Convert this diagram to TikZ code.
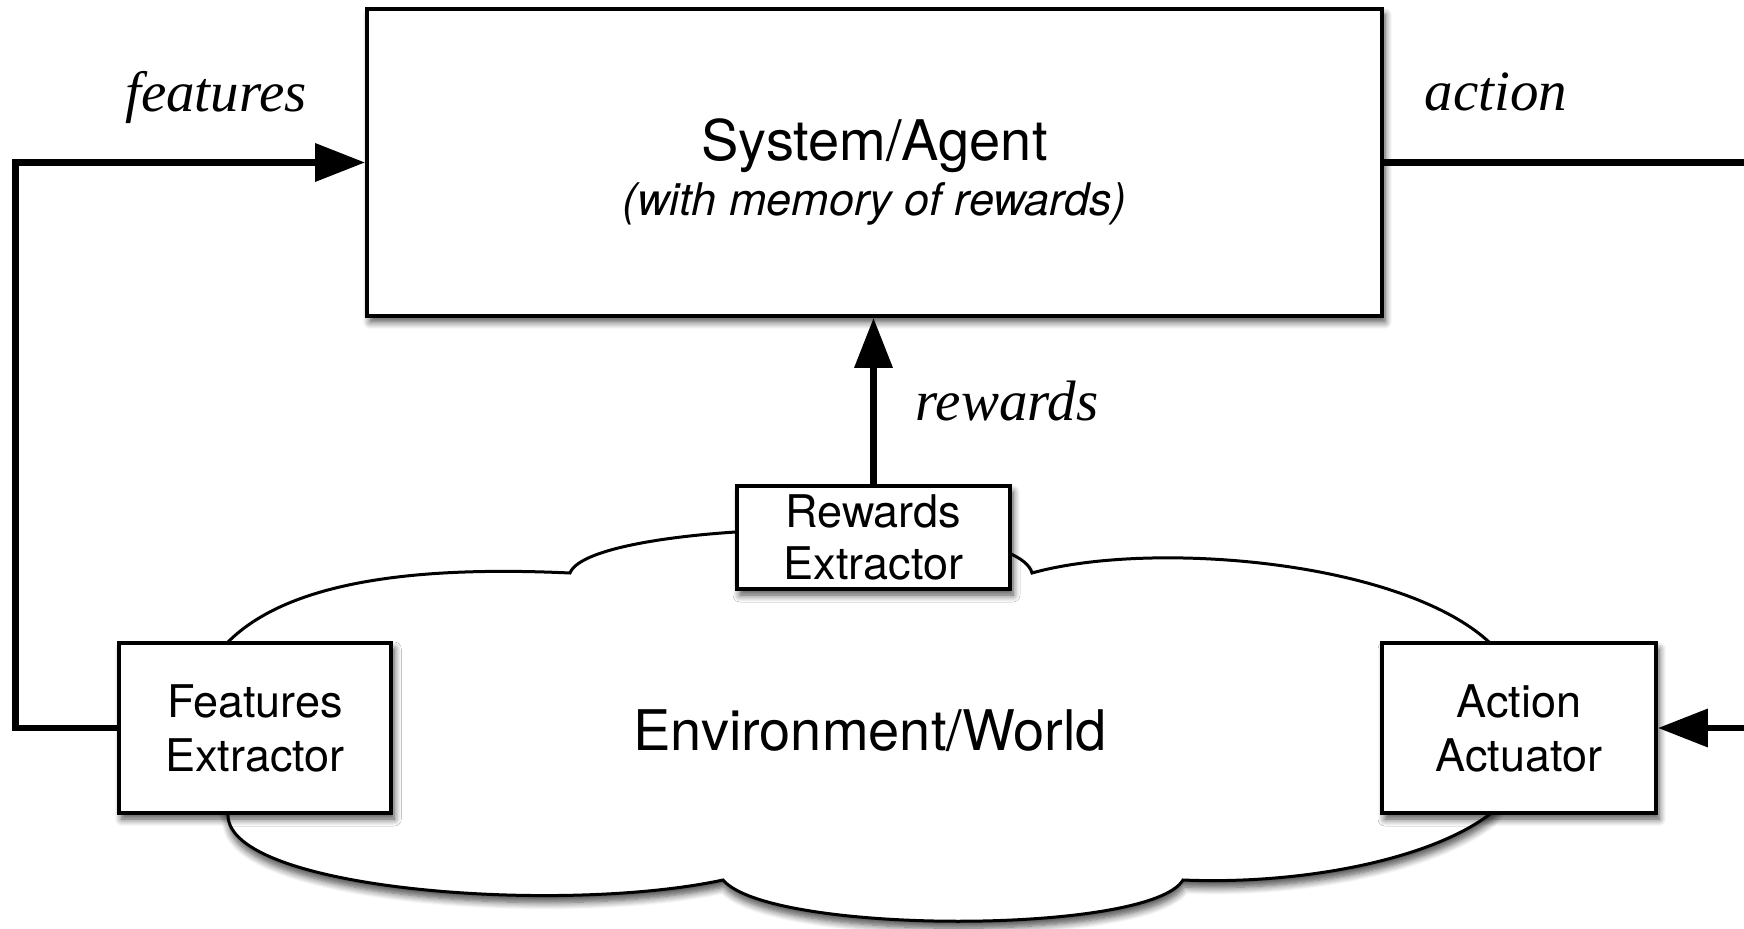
\documentclass[tikz,border=0pt]{standalone}
\usepackage{fontspec}
\setmainfont{TeX Gyre Heros}
\newfontfamily\labelserif{Liberation Serif}
\usetikzlibrary{arrows.meta,shadows.blur}

\tikzset{
  softshadow/.style={blur shadow={shadow xshift=1.5pt, shadow yshift=-3pt,
      shadow blur radius=3.5pt, shadow blur steps=8, shadow opacity=70}},
  box/.style={draw, line width=1.9pt, fill=white, inner sep=0pt, align=center,
      softshadow, font=\fontsize{22.5}{27}\selectfont},
  cloudshape/.style={draw, line width=1.5pt, fill=white,
      blur shadow={shadow xshift=0.5pt, shadow yshift=-3.5pt,
      shadow blur radius=3.5pt, shadow blur steps=8, shadow opacity=70}},
  conn/.style={draw=black, line width=3.4pt,
      -{Triangle[length=25pt, width=18.5pt, fill=black]}},
  lbl/.style={font=\labelserif\itshape\fontsize{28.5}{34}\selectfont,
      anchor=base, inner sep=0pt},
}

\begin{document}
\begin{tikzpicture}[x=0.5pt, y=-0.5pt]
\useasboundingbox (0,0) rectangle (1744,929);
\clip (0,0) rectangle (1744,929);

% the environment, drawn as a cloud
\draw[cloudshape] (228,642)
  .. controls (290,580) and (420,566) .. (570,573)
  .. controls (590,520) and (1015,510) .. (1032,573)
  .. controls (1150,540) and (1400,560) .. (1489,642)
  .. controls (1530,690) and (1530,770) .. (1490,814)
  .. controls (1430,860) and (1300,885) .. (1183,880)
  .. controls (1150,935) and (770,935) .. (723,880)
  .. controls (560,915) and (228,890) .. (228,815)
  .. controls (200,760) and (190,690) .. (228,642) -- cycle;
\node[font=\fontsize{28}{34}\selectfont, inner sep=0pt] (envtext) at (870,731) {Environment/World};

% boxes
\node[box, minimum width=507.5pt, minimum height=153.5pt] (sys) at (874.5,162.5) {};
\node[align=center, inner sep=0pt, font=\fontsize{22.5}{27.5}\selectfont] (systext) at (874.5,172)
  {{\fontsize{28}{34}\selectfont System/Agent}\\{\itshape (with memory of rewards)}};
\node[box, minimum width=136.25pt, minimum height=85pt] (feat) at (255,728) {Features\\Extractor};
\node[box, minimum width=137pt, minimum height=85pt] (act) at (1519,728) {Action\\Actuator};
\node[box, minimum width=136.5pt, minimum height=51.5pt,
      font=\fontsize{22.5}{26}\selectfont] (rwd) at (873.5,537.5) {Rewards\\Extractor};

% connectors
\coordinate (fturn) at (15.5,728);
\coordinate (aturn) at (1800,162.5);
\path[conn] (feat.west) -- (fturn) |- (sys.west);
\path[conn] (rwd.north) -- (rwd.north |- sys.south);
\path[conn] (sys.east) -- (aturn) |- (act.east);

% connector labels
\node[lbl] (lfeat) at (216,112) {features};
\node[lbl] (lact) at (1496,111) {action};
\node[lbl] (lrwd) at (1007,421) {rewards};
\end{tikzpicture}
\end{document}
